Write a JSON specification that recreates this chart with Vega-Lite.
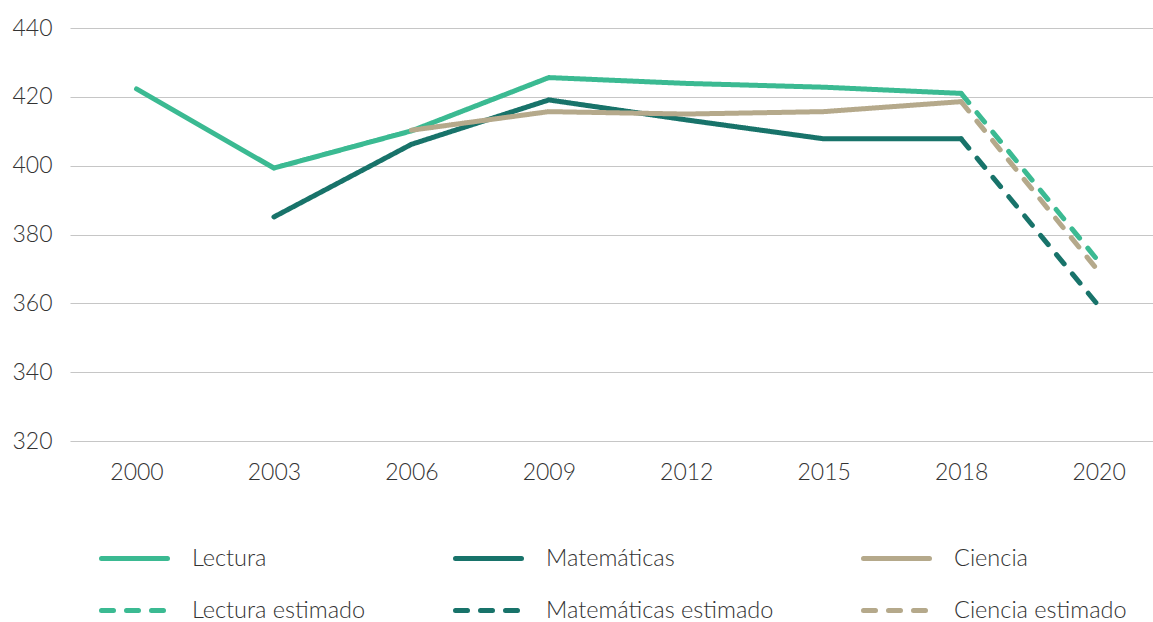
{
  "$schema": "https://vega.github.io/schema/vega-lite/v6.json",
  "autosize": "none",
  "padding": {"left": 70, "top": 28, "right": 0, "bottom": 181},
  "width": 1083,
  "height": 413,
  "background": "white",
  "config": {
    "view": {"stroke": null},
    "font": "Lato",
    "axis": {"labelFont": "Lato", "labelFontSize": 23, "labelColor": "#333333", "labelFontWeight": 300, "domain": false, "ticks": false, "title": null},
    "legend": {"labelFont": "Lato", "labelFontSize": 23.5, "labelColor": "#333333", "labelFontWeight": 300}
  },
  "data": {
    "values": [
      {"anio": "2000", "serie": "Lectura", "valor": 422.3},
      {"anio": "2003", "serie": "Lectura", "valor": 399.3},
      {"anio": "2006", "serie": "Lectura", "valor": 410.1},
      {"anio": "2009", "serie": "Lectura", "valor": 425.6},
      {"anio": "2012", "serie": "Lectura", "valor": 423.9},
      {"anio": "2015", "serie": "Lectura", "valor": 422.8},
      {"anio": "2018", "serie": "Lectura", "valor": 421.0},
      {"anio": "2003", "serie": "Matemáticas", "valor": 385.1},
      {"anio": "2006", "serie": "Matemáticas", "valor": 406.2},
      {"anio": "2009", "serie": "Matemáticas", "valor": 419.1},
      {"anio": "2012", "serie": "Matemáticas", "valor": 413.3},
      {"anio": "2015", "serie": "Matemáticas", "valor": 407.8},
      {"anio": "2018", "serie": "Matemáticas", "valor": 407.8},
      {"anio": "2006", "serie": "Ciencia", "valor": 410.3},
      {"anio": "2009", "serie": "Ciencia", "valor": 415.7},
      {"anio": "2012", "serie": "Ciencia", "valor": 415.0},
      {"anio": "2015", "serie": "Ciencia", "valor": 415.7},
      {"anio": "2018", "serie": "Ciencia", "valor": 418.6},
      {"anio": "2018", "serie": "Lectura estimado", "valor": 421.0},
      {"anio": "2020", "serie": "Lectura estimado", "valor": 372.2},
      {"anio": "2018", "serie": "Matemáticas estimado", "valor": 407.8},
      {"anio": "2020", "serie": "Matemáticas estimado", "valor": 359.3},
      {"anio": "2018", "serie": "Ciencia estimado", "valor": 418.6},
      {"anio": "2020", "serie": "Ciencia estimado", "valor": 369.3}
    ]
  },
  "mark": {"type": "line", "strokeWidth": 5, "strokeCap": "round"},
  "encoding": {
    "x": {
      "field": "anio", "type": "ordinal",
      "scale": {"type": "point", "padding": 0.44, "align": 0.55},
      "axis": {"labelAngle": 0, "labelPadding": 20, "grid": false}
    },
    "y": {
      "field": "valor", "type": "quantitative",
      "scale": {"domain": [320, 440], "zero": false, "nice": false},
      "axis": {"values": [320, 340, 360, 380, 400, 420, 440], "labelPadding": 18, "grid": true, "gridColor": "#c6c6c6", "gridWidth": 1.2}
    },
    "color": {
      "field": "serie", "type": "nominal",
      "scale": {
        "domain": ["Lectura", "Matemáticas", "Ciencia", "Lectura estimado", "Matemáticas estimado", "Ciencia estimado"],
        "range": ["#3bba92", "#18736a", "#b5a98b", "#3bba92", "#18736a", "#b5a98b"]
      },
      "legend": {
        "title": null,
        "orient": "none",
        "legendX": 29,
        "legendY": 495,
        "columns": 3,
        "direction": "horizontal",
        "symbolType": "stroke",
        "symbolSize": 4356,
        "symbolStrokeWidth": 5,
        "labelOffset": 22,
        "columnPadding": 79,
        "rowPadding": 5,
        "labelLimit": 400,
        "encode": {"symbols": {"update": {"strokeCap": {"value": "round"}}}}
      }
    },
    "strokeDash": {
      "field": "serie", "type": "nominal",
      "scale": {
        "domain": ["Lectura", "Matemáticas", "Ciencia", "Lectura estimado", "Matemáticas estimado", "Ciencia estimado"],
        "range": [[1, 0], [1, 0], [1, 0], [12, 13], [12, 13], [12, 13]]
      },
      "legend": {
        "title": null,
        "orient": "none",
        "legendX": 29,
        "legendY": 495,
        "columns": 3,
        "direction": "horizontal",
        "symbolType": "stroke",
        "symbolSize": 4356,
        "symbolStrokeWidth": 5,
        "labelOffset": 22,
        "columnPadding": 79,
        "rowPadding": 5,
        "labelLimit": 400,
        "encode": {"symbols": {"update": {"strokeCap": {"value": "round"}}}}
      }
    },
    "detail": {"field": "serie"}
  }
}
